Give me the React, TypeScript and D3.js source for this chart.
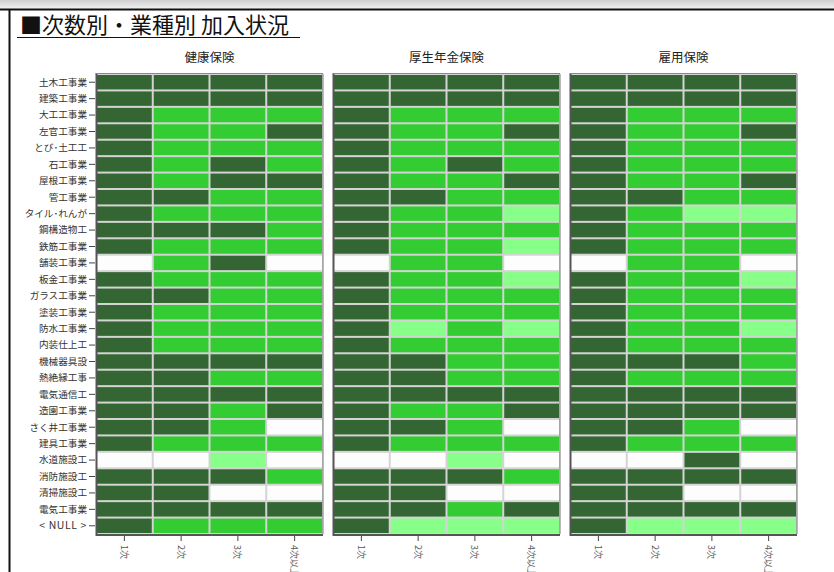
import React, { useEffect } from "react";
import * as d3 from "d3";

const title = "■次数別・業種別 加入状況";
const panels = ["健康保険", "厚生年金保険", "雇用保険"];
const columns = ["1次", "2次", "3次", "4次以上"];
const industries = [
  "土木工事業", "建築工事業", "大工工事業", "左官工事業", "とび･土工工", "石工事業",
  "屋根工事業", "管工事業", "タイル･れんが", "鋼構造物工", "鉄筋工事業", "舗装工事業",
  "板金工事業", "ガラス工事業", "塗装工事業", "防水工事業", "内装仕上工", "機械器具設",
  "熱絶縁工事", "電気通信工", "造園工事業", "さく井工事業", "建具工事業", "水道施設工",
  "消防施設工", "清掃施設工", "電気工事業", "< NULL >",
];

// status codes per row: D = 加入, G, L, W = none
const kenkoHoken = [
  "DDDD", "DDDD", "DGGG", "DGGD", "DGGG", "DGDG", "DGDD", "DDGG", "DGGG", "DDDG",
  "DGGG", "WGDW", "DGGG", "DDGG", "DGGG", "DGGG", "DGGG", "DDDD", "DDGG", "DDDD",
  "DDGD", "DDGW", "DGGG", "WWLW", "DDDG", "DDWW", "DDDD", "DGGG",
];
const koseiNenkin = [
  "DDDD", "DDDD", "DGGG", "DGGD", "DGGG", "DGDG", "DGGD", "DDGG", "DGGL", "DGGG",
  "DGGL", "WGGW", "DGGL", "DGGG", "DGGG", "DLGL", "DGGG", "DDGG", "DDGG", "DDDD",
  "DGGD", "DDGW", "DGGG", "WWLW", "DDDG", "DDWW", "DDGD", "DLLL",
];
const koyoHoken = [
  "DDDD", "DDDD", "DGGG", "DGGD", "DGGG", "DGGG", "DGGD", "DDGG", "DGLL", "DGGG",
  "DGGG", "WGGW", "DGGL", "DGGG", "DGGG", "DGGL", "DGGG", "DDDG", "DGGG", "DDDD",
  "DDDD", "DDGW", "DGGG", "WWDW", "DDDD", "DDWW", "DDDD", "DLLL",
];
const panelData = [kenkoHoken, koseiNenkin, koyoHoken];

const statusKeys = ["D", "G", "L", "W"];
const statusColors = ["#336633", "#33cc33", "#88ff88", "#fdfdfd"];

export default function App() {
  useEffect(() => {
    document.body.style.margin = "0";
  }, []);

  const W = 834;
  const H = 572;
  const top = 74;
  const bottom = 534;
  const panelW = 227;
  const panelX = d3.scaleOrdinal<string, number>().domain(panels).range([96, 333, 570]);
  const y = d3.scaleBand<string>().domain(industries).range([top, bottom]);
  const x = d3.scaleBand<string>().domain(columns).range([0, panelW]);
  const color = d3.scaleOrdinal<string, string>().domain(statusKeys).range(statusColors);
  const font = "'Noto Sans CJK JP', 'Noto Sans', sans-serif";

  return (
    <svg width={W} height={H} style={{ display: "block", background: "#fff" }}>
      <defs>
        <linearGradient id="topbar" x1="0" y1="0" x2="0" y2="1">
          <stop offset="0" stopColor="#cfcfcf" />
          <stop offset="1" stopColor="#f2f2f2" />
        </linearGradient>
      </defs>
      <rect x={0} y={0} width={W} height={9} fill="url(#topbar)" />
      <line x1={0} x2={W} y1={9.5} y2={9.5} stroke="#111" strokeWidth={2} />
      <line x1={9.5} x2={9.5} y1={9} y2={H} stroke="#111" strokeWidth={2} />

      <text x={20} y={33} fontSize={22} fontFamily={font} fill="#111">
        {title}
      </text>
      <line x1={17} x2={300} y1={37.5} y2={37.5} stroke="#111" strokeWidth={1} />

      {panels.map((p, pi) => {
        const px = panelX(p);
        const data = panelData[pi];
        return (
          <g key={p} transform={`translate(${px},0)`}>
            <text x={panelW / 2} y={62} textAnchor="middle" fontSize={12.5} fontFamily={font} fill="#222">
              {p}
            </text>
            <rect x={0} y={top} width={panelW} height={bottom - top} fill="#d4d4d4" />
            {industries.map((ind, ri) =>
              columns.map((c, ci) => (
                <rect
                  key={ind + c}
                  x={(x(c) as number) + 1}
                  y={(y(ind) as number) + 1}
                  width={x.bandwidth() - 2}
                  height={y.bandwidth() - 2}
                  fill={color(data[ri][ci])}
                />
              ))
            )}
            <line x1={0.5} x2={0.5} y1={top - 1} y2={bottom + 2} stroke="#555" strokeWidth={2} />
            <line x1={0} x2={panelW} y1={bottom + 1} y2={bottom + 1} stroke="#555" strokeWidth={2} />
            <line x1={panelW} x2={panelW} y1={top} y2={bottom} stroke="#777" strokeWidth={1} />
            <line x1={0} x2={panelW} y1={top - 0.5} y2={top - 0.5} stroke="#888" strokeWidth={1} />
            {columns.map((c) => {
              const cx = (x(c) as number) + x.bandwidth() / 2;
              return (
                <g key={c}>
                  <line x1={cx} x2={cx} y1={bottom + 2} y2={bottom + 7} stroke="#444" strokeWidth={1} />
                  <text
                    transform={`translate(${cx - 3.5},${bottom + 11}) rotate(90)`}
                    fontSize={9}
                    fontFamily={font}
                    fill="#555"
                  >
                    {c}
                  </text>
                </g>
              );
            })}
            {pi === 0 &&
              industries.map((ind) => {
                const cy = (y(ind) as number) + y.bandwidth() / 2;
                const latin = /^[<\sA-Z>]+$/.test(ind);
                return (
                  <g key={ind}>
                    <line x1={-7} x2={-1} y1={cy} y2={cy} stroke="#444" strokeWidth={1} />
                    <text
                      x={-9}
                      y={cy}
                      dy="0.35em"
                      textAnchor="end"
                      fontSize={latin ? 10.5 : 9.6}
                      letterSpacing={latin ? 0.6 : 0}
                      fontFamily={font}
                      fill="#333"
                    >
                      {ind}
                    </text>
                  </g>
                );
              })}
          </g>
        );
      })}
    </svg>
  );
}
